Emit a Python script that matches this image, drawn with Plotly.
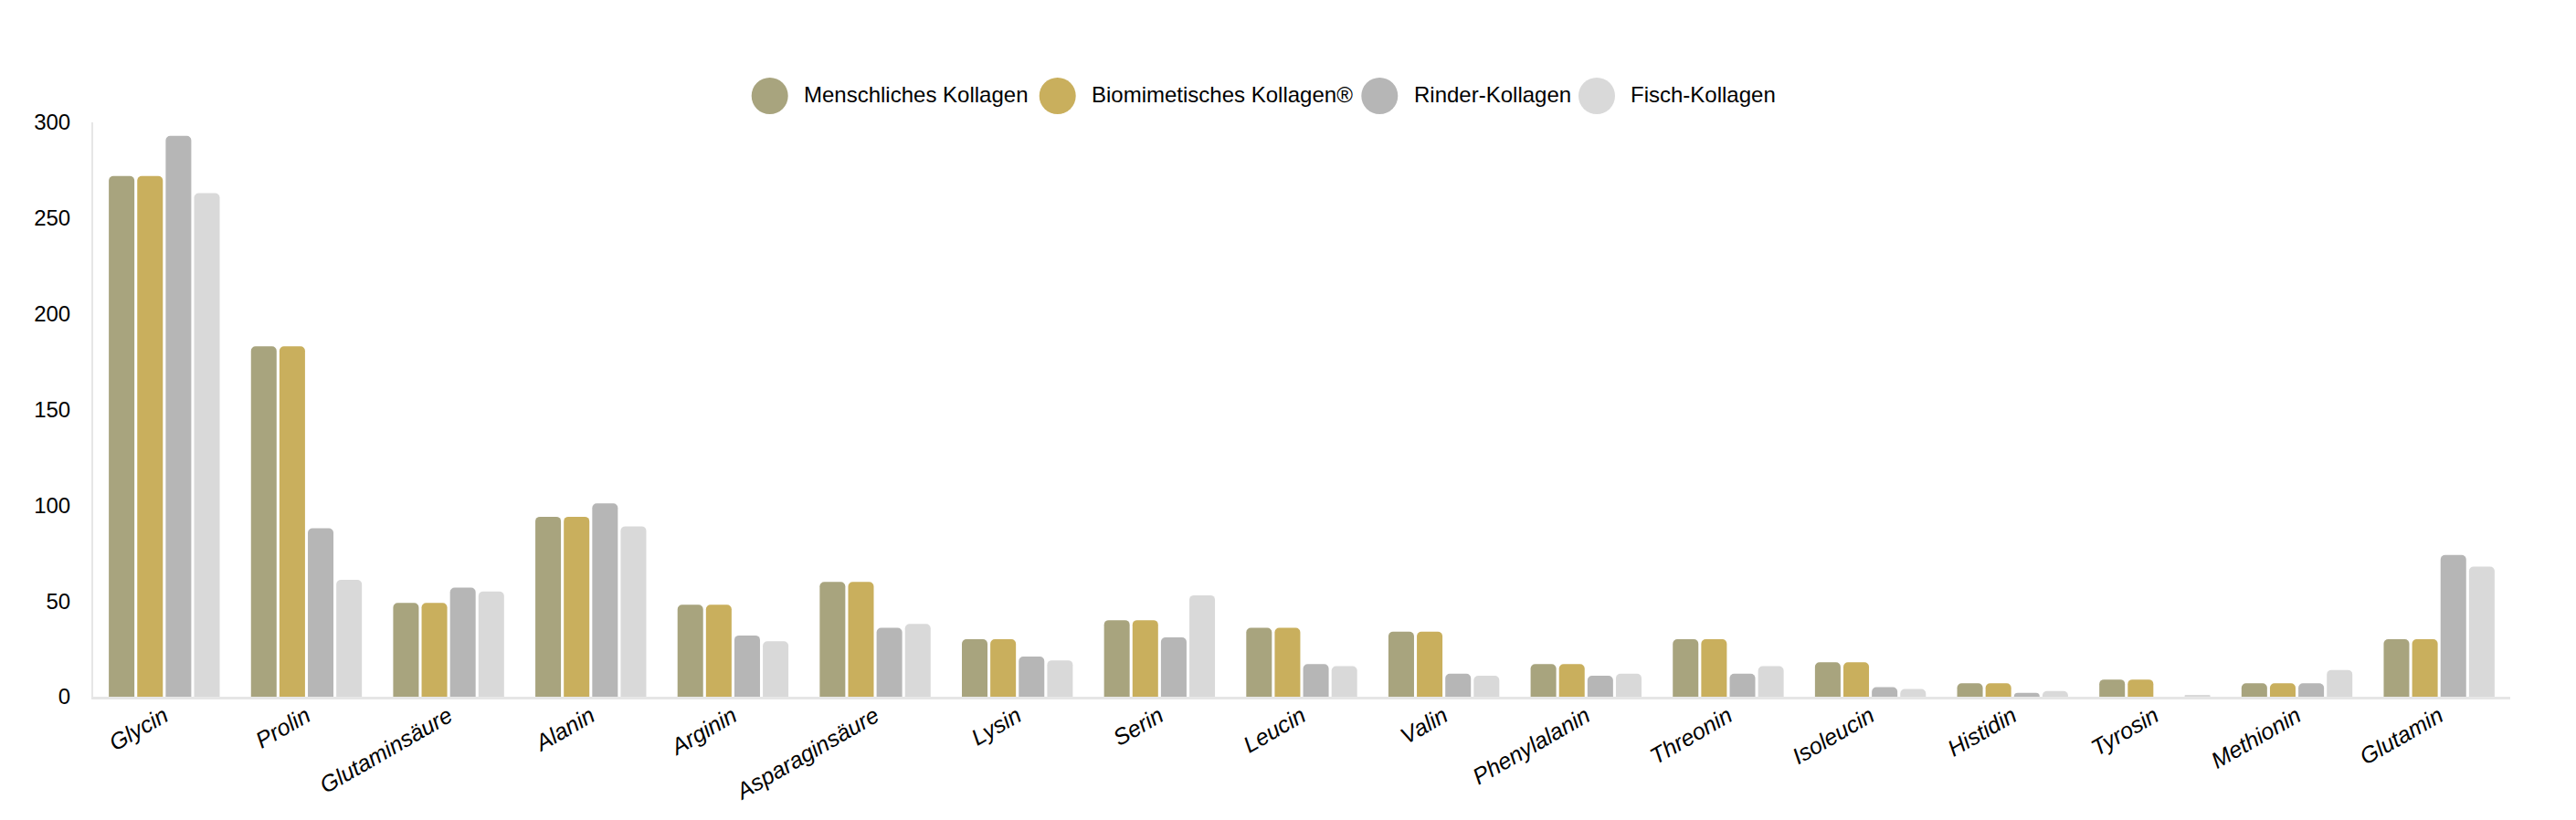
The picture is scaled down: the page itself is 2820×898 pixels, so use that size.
import plotly.graph_objects as go

categories = ["Glycin", "Prolin", "Glutaminsäure", "Alanin", "Arginin", "Asparaginsäure",
              "Lysin", "Serin", "Leucin", "Valin", "Phenylalanin", "Threonin",
              "Isoleucin", "Histidin", "Tyrosin", "Methionin", "Glutamin"]
menschlich = [272, 183, 49, 94, 48, 60, 30, 40, 36, 34, 17, 30, 18, 7, 9, 7, 30]
biomimetisch = [272, 183, 49, 94, 48, 60, 30, 40, 36, 34, 17, 30, 18, 7, 9, 7, 30]
rinder = [293, 88, 57, 101, 32, 36, 21, 31, 17, 12, 11, 12, 5, 2, 0, 7, 74]
fisch = [263, 61, 55, 89, 29, 38, 19, 53, 16, 11, 12, 16, 4, 3, 0.6, 14, 68]

series_names = ["Menschliches Kollagen", "Biomimetisches Kollagen®", "Rinder-Kollagen", "Fisch-Kollagen"]
series_values = [menschlich, biomimetisch, rinder, fisch]
colors = ["#A8A47E", "#C9AF5D", "#B6B6B6", "#D9D9D9"]

W, H = 2820, 898
ML, MR, MT, MB = 102, 72, 134, 135
FONT = "Liberation Sans, Arial, sans-serif"


def px2paper(x):
    return (x - ML) / (W - ML - MR)


def py2paper(y):
    return (H - MB - y) / (H - MT - MB)


fig = go.Figure()
for name, vals, col in zip(series_names, series_values, colors):
    fig.add_trace(go.Bar(
        x=categories, y=vals, name=name,
        marker=dict(color=col, cornerradius=5, line=dict(width=0)),
        hoverinfo="x+y+name",
    ))

# manual legend (large circles)
legend_circle_cx = [842.7, 1157.7, 1510.3, 1748.0]
legend_text_x = [878, 1193, 1546, 1783]
legend_cy = 105
shapes = []
annotations = []
for name, col, cx, tx in zip(series_names, colors, legend_circle_cx, legend_text_x):
    shapes.append(dict(
        type="circle", xref="paper", yref="paper",
        xsizemode="pixel", ysizemode="pixel",
        xanchor=px2paper(cx), yanchor=py2paper(legend_cy),
        x0=-20, x1=20, y0=-20, y1=20,
        fillcolor=col, line=dict(width=0),
    ))
    annotations.append(dict(
        text=name, xref="paper", yref="paper",
        x=px2paper(tx), y=py2paper(legend_cy - 1),
        xanchor="left", yanchor="middle", showarrow=False,
        font=dict(family=FONT, size=24, color="#000000"),
    ))

fig.update_layout(
    width=W, height=H,
    margin=dict(l=ML, r=MR, t=MT, b=MB, pad=0),
    paper_bgcolor="white", plot_bgcolor="white",
    barmode="group", bargap=0.2, bargroupgap=0.1,
    showlegend=False,
    shapes=shapes, annotations=annotations,
    font=dict(family=FONT, color="#000000"),
    xaxis=dict(
        showline=True, linecolor="#E6E6E6", linewidth=3,
        showgrid=False, zeroline=False, ticks="",
        tickangle=-30,
        tickfont=dict(family=FONT, size=25, style="italic", color="#000000"),
        ticklabelstandoff=-6,
    ),
    yaxis=dict(
        range=[0, 300], dtick=50, tick0=0,
        showline=True, linecolor="#E6E6E6", linewidth=2,
        showgrid=False, zeroline=False, ticks="",
        tickfont=dict(family=FONT, size=24, color="#000000"),
        ticklabelstandoff=18,
    ),
)

fig.write_html("out.html")
